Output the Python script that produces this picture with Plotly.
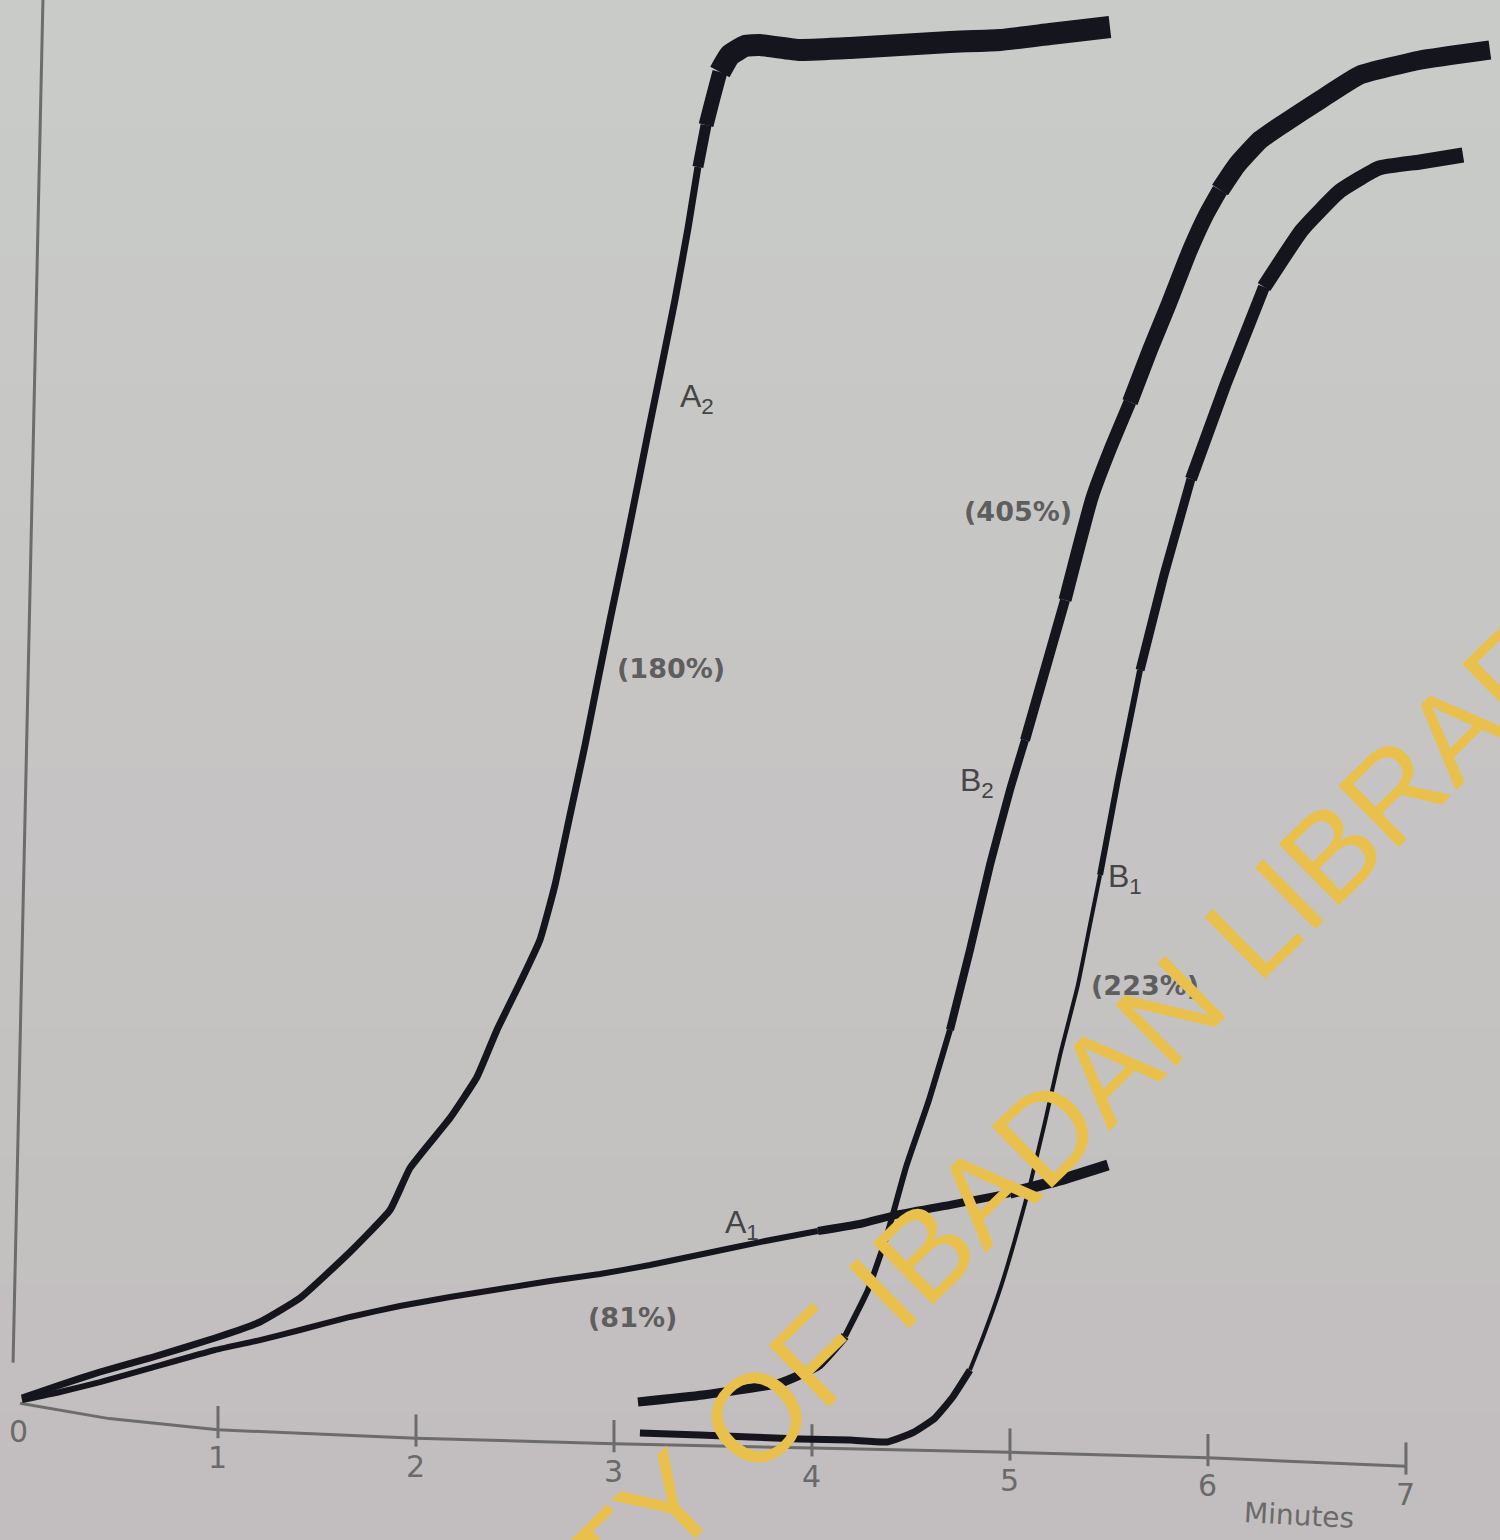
import plotly.graph_objects as go

# ---------------- data (time in minutes, response in arbitrary units) ----------------
A2_minutes = [0.010, 0.202, 0.404, 0.657, 0.985, 1.212, 1.414, 1.667, 1.869, 1.970, 2.172, 2.308,
              2.409, 2.525, 2.626, 2.702, 2.778, 2.854, 2.919, 2.980, 3.056, 3.131, 3.172, 3.242,
              3.308, 3.374, 3.424, 3.465, 3.500, 3.535, 3.586, 3.662, 3.737, 3.939, 4.192, 4.444,
              4.697, 4.949, 5.202, 5.505]
A2_values = [1.57, 2.50, 3.43, 4.43, 5.86, 7.00, 8.71, 12.00, 15.00, 18.00, 21.57, 24.50,
             27.86, 31.21, 34.29, 38.21, 43.21, 48.21, 52.86, 57.14, 62.29, 67.57, 70.50, 75.36,
             80.00, 85.14, 89.50, 92.50, 94.43, 96.29, 97.50, 98.14, 98.21, 97.86, 98.00, 98.21,
             98.43, 98.57, 99.00, 99.50]

A1_minutes = [0.010, 0.202, 0.404, 0.657, 0.985, 1.212, 1.414, 1.667, 1.919, 2.172, 2.424, 2.677,
              2.929, 3.182, 3.449, 3.737, 4.030, 4.242, 4.419, 4.697, 5.000, 5.253, 5.495]
A1_values = [1.43, 2.00, 2.71, 3.71, 5.00, 5.71, 6.43, 7.36, 8.14, 8.79, 9.36, 9.93,
             10.43, 11.07, 11.86, 12.71, 13.50, 14.00, 14.64, 15.36, 16.21, 17.14, 18.21]

B2_minutes = [3.121, 3.449, 3.838, 4.030, 4.167, 4.283, 4.379, 4.475, 4.591, 4.697, 4.798, 4.899,
              5.000, 5.076, 5.177, 5.278, 5.414, 5.505, 5.606, 5.707, 5.798, 5.909, 5.990, 6.061,
              6.146, 6.263, 6.379, 6.566, 6.768, 7.071, 7.424]
B2_values = [1.29, 1.79, 2.64, 3.86, 6.00, 9.29, 13.21, 18.07, 22.86, 27.86, 33.57, 39.64,
             45.00, 48.57, 53.57, 58.57, 65.86, 69.29, 72.71, 76.43, 79.57, 83.57, 86.07, 87.86,
             89.64, 91.43, 92.57, 94.29, 96.07, 97.14, 97.86]

B1_minutes = [3.131, 3.434, 3.687, 3.939, 4.192, 4.379, 4.515, 4.621, 4.707, 4.798, 4.864, 4.949,
              5.025, 5.101, 5.177, 5.253, 5.343, 5.404, 5.455, 5.545, 5.657, 5.778, 5.914, 6.091,
              6.283, 6.475, 6.667, 6.864, 7.071, 7.288]
B1_values = [-0.93, -1.07, -1.21, -1.36, -1.43, -1.57, -0.86, 0.14, 1.57, 3.57, 5.93, 9.29,
             12.86, 16.79, 21.29, 26.07, 31.07, 35.36, 38.93, 45.71, 53.57, 60.36, 67.21, 74.07,
             80.93, 85.00, 87.79, 89.43, 89.86, 90.36]

tick_vals = [0, 1, 2, 3, 4, 5, 6, 7]
tick_labels = ["0", "1", "2", "3", "4", "5", "6", "7"]
x_title = "Minutes"

curve_labels = ["A<sub>2</sub>", "A<sub>1</sub>", "B<sub>2</sub>", "B<sub>1</sub>"]
curve_label_x = [3.419, 3.646, 4.833, 5.581]
curve_label_y = [73.0, 13.93, 45.57, 38.71]

pct_labels = ["(180%)", "(81%)", "(405%)", "(223%)"]
pct_label_x = [3.290, 3.091, 5.040, 5.680]
pct_label_y = [53.71, 7.29, 64.86, 31.07]

watermark = "UNIVERSITY OF IBADAN LIBRARY"

# ---------------- styling ----------------
INK = "#15161d"
AXIS = "#6c6c6c"
# photographed baseline sags slightly to the right: drawn baseline height at each tick
baseline_y = [1.2, -0.7, -1.3, -1.7, -2.0, -2.3, -2.7, -3.3]

# line width profiles: (key, [(threshold, width), ...])
width_rules = {
    "A2": ("y", [(-99, 7), (88, 11), (93, 15), (96, 22)]),
    "A1": ("x", [(-99, 6), (4.0, 8), (5.0, 11)]),
    "B2": ("y", [(-99, 9), (5, 6), (30, 8), (50, 10), (62, 13), (72, 16), (88, 19)]),
    "B1": ("y", [(-99, 7), (3, 4), (40, 6), (55, 9), (68, 12), (80, 15)]),
}

series = {
    "A2": (A2_minutes, A2_values),
    "A1": (A1_minutes, A1_values),
    "B2": (B2_minutes, B2_values),
    "B1": (B1_minutes, B1_values),
}

fig = go.Figure()


def width_for(rule, xm, ym):
    key, steps = rule
    v = xm if key == "x" else ym
    w = steps[0][1]
    for thr, ww in steps:
        if v >= thr:
            w = ww
    return w


for name, (xs, ys) in series.items():
    rule = width_rules[name]
    seg_w = [width_for(rule, (xs[i] + xs[i + 1]) / 2, (ys[i] + ys[i + 1]) / 2)
             for i in range(len(xs) - 1)]
    start = 0
    for i in range(1, len(seg_w) + 1):
        if i == len(seg_w) or seg_w[i] != seg_w[start]:
            fig.add_trace(go.Scatter(
                x=xs[start:i + 1], y=ys[start:i + 1], mode="lines",
                line=dict(color=INK, width=seg_w[start], shape="spline", smoothing=0.4),
                hoverinfo="skip", showlegend=False, name=name))
            start = i

# ---------------- background gradient ----------------
top_rgb = (201, 203, 201)
bot_rgb = (194, 189, 190)
nb = 12
for k in range(nb):
    t = k / (nb - 1)
    c = tuple(round(top_rgb[j] + (bot_rgb[j] - top_rgb[j]) * t) for j in range(3))
    fig.add_shape(type="rect", xref="paper", yref="paper",
                  x0=0, x1=1, y0=1 - (k + 1) / nb, y1=1 - k / nb,
                  fillcolor="rgb(%d,%d,%d)" % c, line=dict(width=0), layer="below")

# ---------------- hand-drawn axes ----------------
fig.add_shape(type="line", x0=0.116, y0=101.5, x1=-0.035, y1=4.1,
              line=dict(color=AXIS, width=3), layer="below")
pts = [(tick_vals[0], baseline_y[0]), (0.45, 0.1)] + list(zip(tick_vals[1:], baseline_y[1:]))
path = "M " + " L ".join("%g,%g" % p for p in pts)
fig.add_shape(type="path", path=path, line=dict(color=AXIS, width=3), layer="below")
for tv, by, lab in zip(tick_vals, baseline_y, tick_labels):
    if tv > 0:
        fig.add_shape(type="line", x0=tv, x1=tv, y0=by + 1.7, y1=by - 0.6,
                      line=dict(color=AXIS, width=3), layer="below")
    fig.add_annotation(x=tv - (0.01 if tv == 0 else 0), y=by - 2.0, text=lab, showarrow=False,
                       xanchor="center", yanchor="middle",
                       font=dict(family="DejaVu Sans", size=30, color="#6a6a6a"))
fig.add_annotation(x=6.46, y=-6.8, text=x_title, showarrow=False, textangle=3,
                   xanchor="center", yanchor="middle",
                   font=dict(family="DejaVu Sans", size=28, color="#6a6a6a"))

# ---------------- curve labels ----------------
for t, lx, ly in zip(curve_labels, curve_label_x, curve_label_y):
    fig.add_annotation(x=lx, y=ly, text=t, showarrow=False, xanchor="center", yanchor="middle",
                       font=dict(family="Liberation Sans", size=32, color="#454545"))
for t, lx, ly in zip(pct_labels, pct_label_x, pct_label_y):
    fig.add_annotation(x=lx, y=ly, text=t, showarrow=False, xanchor="center", yanchor="middle",
                       font=dict(family="DejaVu Sans", size=27, color="#5e5e5e", weight="bold"))

# ---------------- watermark ----------------
fig.add_annotation(xref="paper", yref="paper", x=0.59, y=0.1623, text=watermark,
                   showarrow=False, textangle=-44.5, xanchor="center", yanchor="middle",
                   font=dict(family="Liberation Sans", size=125, color="#e8c04b"))

fig.update_layout(
    width=1500, height=1540, margin=dict(l=0, r=0, t=0, b=0),
    paper_bgcolor="#c6c4c4", plot_bgcolor="rgba(0,0,0,0)",
    xaxis=dict(range=[-0.101, 7.475], visible=False, fixedrange=True),
    yaxis=dict(range=[-8.571, 101.43], visible=False, fixedrange=True),
    showlegend=False,
)

fig.write_html("out.html")
